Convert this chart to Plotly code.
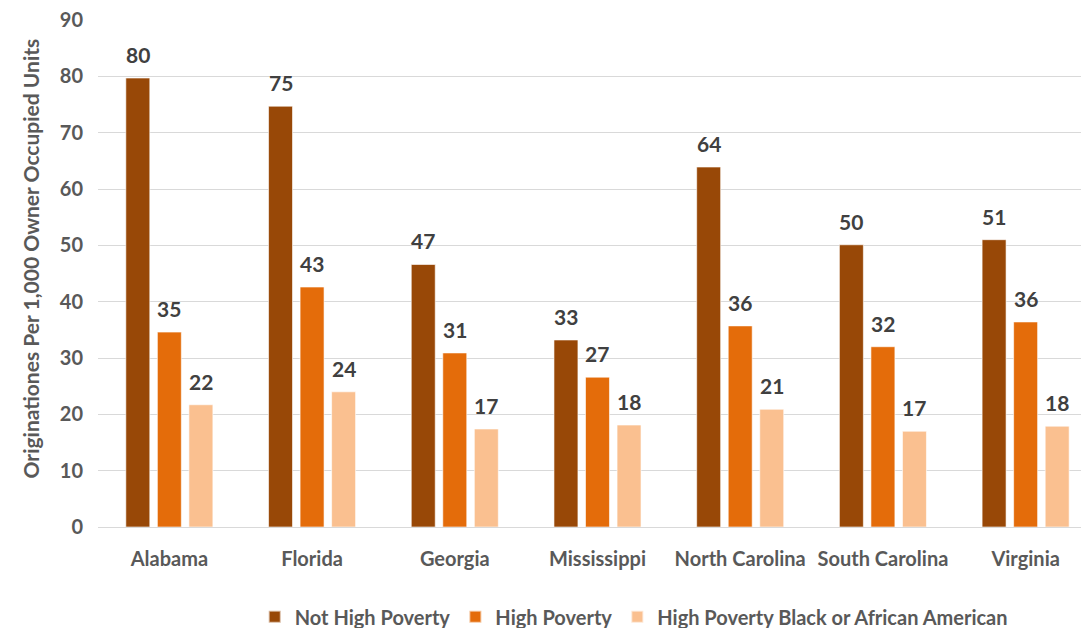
import plotly.graph_objects as go

states = ["Alabama", "Florida", "Georgia", "Mississippi", "North Carolina", "South Carolina", "Virginia"]
not_high_poverty = [79.7, 74.7, 46.6, 33.2, 63.9, 50.1, 51.0]
high_poverty = [34.6, 42.6, 30.9, 26.6, 35.7, 32.0, 36.4]
high_poverty_black = [21.7, 24.0, 17.4, 18.1, 20.9, 17.0, 17.9]

series = [
    ("Not High Poverty", not_high_poverty, "#984807"),
    ("High Poverty", high_poverty, "#E46C0A"),
    ("High Poverty Black or African American", high_poverty_black, "#FAC090"),
]

FONT = "Lato"
TICK_COLOR = "#595959"
LABEL_COLOR = "#404040"

fig = go.Figure()
annotations = []
group_step_px = 31.5
for i, (name, vals, color) in enumerate(series):
    fig.add_trace(go.Bar(
        x=states, y=vals, name=name,
        marker=dict(color=color, line=dict(color="rgba(255,255,255,0.6)", width=1)),
    ))
    for s, v in zip(states, vals):
        annotations.append(dict(
            x=s, y=v, xref="x", yref="y",
            text=f"<b>{round(v)}</b>", showarrow=False,
            xshift=(i - 1) * group_step_px, yshift=9, yanchor="bottom",
            font=dict(family=FONT, size=21, color=LABEL_COLOR),
        ))

# Vertical axis title, placed as a rotated annotation
annotations.append(dict(
    x=-0.069, y=0.53, xref="paper", yref="paper",
    text="<b>Originationes Per 1,000 Owner Occupied Units</b>", textangle=-90,
    showarrow=False, xanchor="center", yanchor="middle",
    font=dict(family=FONT, size=21, color=TICK_COLOR),
))

fig.update_layout(
    width=1081, height=628,
    margin=dict(l=98, r=0, t=20, b=101, autoexpand=False),
    paper_bgcolor="white", plot_bgcolor="white",
    barmode="group", bargap=0.337, bargroupgap=0.24,
    font=dict(family=FONT, size=20, color=TICK_COLOR),
    annotations=annotations,
    legend=dict(
        orientation="h", x=0.545, xanchor="center",
        yref="container", y=0.018, yanchor="middle",
        font=dict(family=FONT, size=20, color=TICK_COLOR, weight="bold"),
        itemsizing="constant", traceorder="normal",
    ),
    showlegend=True,
)
fig.update_xaxes(
    range=[-0.5, 6.388], showgrid=False, showline=False, ticks="",
    ticklabelstandoff=18,
    tickfont=dict(family=FONT, size=20, color=TICK_COLOR, weight="bold"),
)
fig.update_yaxes(
    range=[0, 90], dtick=10, showgrid=True, gridcolor="#D9D9D9", gridwidth=1.3,
    zeroline=True, zerolinecolor="#D9D9D9", zerolinewidth=1.3, showline=False,
    ticks="", ticklabelstandoff=14,
    tickfont=dict(family=FONT, size=20, color=TICK_COLOR, weight="bold"),
)

fig.write_html("out.html")
